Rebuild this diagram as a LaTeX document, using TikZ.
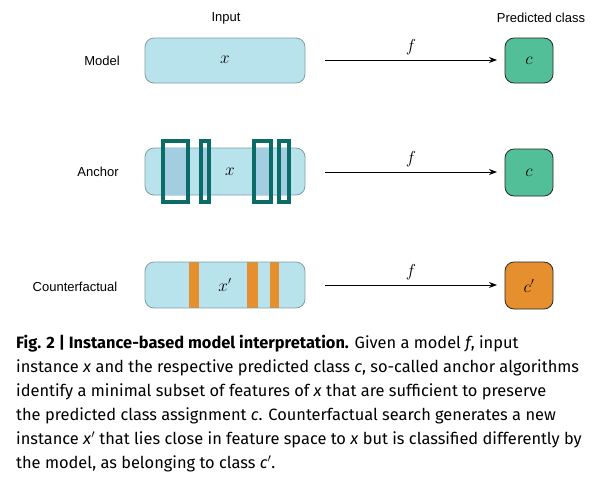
\documentclass[tikz,border=0pt]{standalone}
\usepackage{fontspec}
\setsansfont{Liberation Sans}
\newfontfamily\capfont{Fira Sans}
\usetikzlibrary{arrows.meta}
\definecolor{inbg}{HTML}{B9E3EC}
\definecolor{inedge}{HTML}{7F9EA8}
\definecolor{anch}{HTML}{0A6B68}
\definecolor{anchfill}{HTML}{A3CDE1}
\definecolor{cgreen}{HTML}{52BF99}
\definecolor{corange}{HTML}{E68F2E}
\tikzset{
  lbl/.style={font=\sffamily\fontsize{13}{15}\selectfont, inner sep=0pt},
  inbox/.style={draw=inedge, fill=inbg, rounded corners=9pt, line width=0.8pt},
  clsbox/.style={draw=black!85, rounded corners=9pt, line width=0.8pt},
  anchbox/.style={draw=anch, line width=3.2pt},
  farrow/.style={-{Stealth[length=8pt,width=6pt]}, line width=0.8pt},
  mathlbl/.style={inner sep=0pt, font=\fontsize{16}{18}\selectfont}
}
\begin{document}
\begin{tikzpicture}[x=1pt,y=-1pt]
\useasboundingbox (0,0) rectangle (601,483);
% headers
\node[lbl] (hin) at (226,18) {Input};
\node[lbl] (hpc) at (541,18) {Predicted class};
% row labels
\node[lbl] (lm) at (102,61) {Model};
\node[lbl] (la) at (98,172) {Anchor};
\node[lbl] (lc) at (75,287) {Counterfactual};
% Model row
\draw[inbox] (145,38) rectangle (305,83);
\node[mathlbl] (x1) at (225,60) {$x$};
\draw[clsbox, fill=cgreen] (505,38) rectangle (553,83);
\node[mathlbl] (c1) at (529,61) {$c$};
\coordinate (a1s) at (325,60);
\coordinate (a1e) at (497,60);
\draw[farrow] (a1s) -- (a1e) node[midway, above=5pt, mathlbl] (f1) {$f$};
% Anchor row
\draw[inbox] (145,148) rectangle (305,195);
\begin{scope}
\clip[rounded corners=9pt] (145,148) rectangle (305,195);
\fill[anchfill] (163,141) rectangle (188,202);
\fill[anchfill] (201,141) rectangle (209,202);
\fill[anchfill] (254,141) rectangle (271,202);
\fill[anchfill] (279,141) rectangle (289,202);
\end{scope}
\draw[anchbox] (163,141) rectangle (188,202);
\draw[anchbox] (201,141) rectangle (209,202);
\draw[anchbox] (254,141) rectangle (271,202);
\draw[anchbox] (279,141) rectangle (289,202);
\node[mathlbl] (x2) at (230,172) {$x$};
\draw[clsbox, fill=cgreen] (505,149) rectangle (553,196);
\node[mathlbl] (c2) at (529,173) {$c$};
\coordinate (a2s) at (325,172);
\coordinate (a2e) at (497,172);
\draw[farrow] (a2s) -- (a2e) node[midway, above=5pt, mathlbl] (f2) {$f$};
% Counterfactual row
\begin{scope}
\clip[rounded corners=9pt] (145,262) rectangle (305,308);
\fill[inbg] (145,262) rectangle (305,308);
\fill[corange] (189,262) rectangle (199,308);
\fill[corange] (247,262) rectangle (258,308);
\fill[corange] (270,262) rectangle (279,308);
\end{scope}
\draw[draw=inedge, rounded corners=9pt, line width=0.8pt] (145,262) rectangle (305,308);
\node[mathlbl] (x3) at (225,285) {$x'$};
\draw[clsbox, fill=corange] (505,262) rectangle (553,309);
\node[mathlbl] (c3) at (529,286) {$c'$};
\coordinate (a3s) at (325,285);
\coordinate (a3e) at (497,285);
\draw[farrow] (a3s) -- (a3e) node[midway, above=5pt, mathlbl] (f3) {$f$};
% caption
\node[anchor=north west, inner sep=0pt, align=left, font=\capfont\fontsize{16.4}{24}\selectfont] (cap) at (16,335)
{\textbf{Fig. 2 | Instance-based model interpretation.} Given a model \textit{f}, input\\
instance \textit{x} and the respective predicted class \textit{c}, so-called anchor algorithms\\
identify a minimal subset of features of \textit{x} that are sufficient to preserve\\
the predicted class assignment \textit{c}. Counterfactual search generates a new\\
instance \textit{x}$'$ that lies close in feature space to \textit{x} but is classified differently by\\
the model, as belonging to class \textit{c}$'$.};
\end{tikzpicture}
\end{document}
